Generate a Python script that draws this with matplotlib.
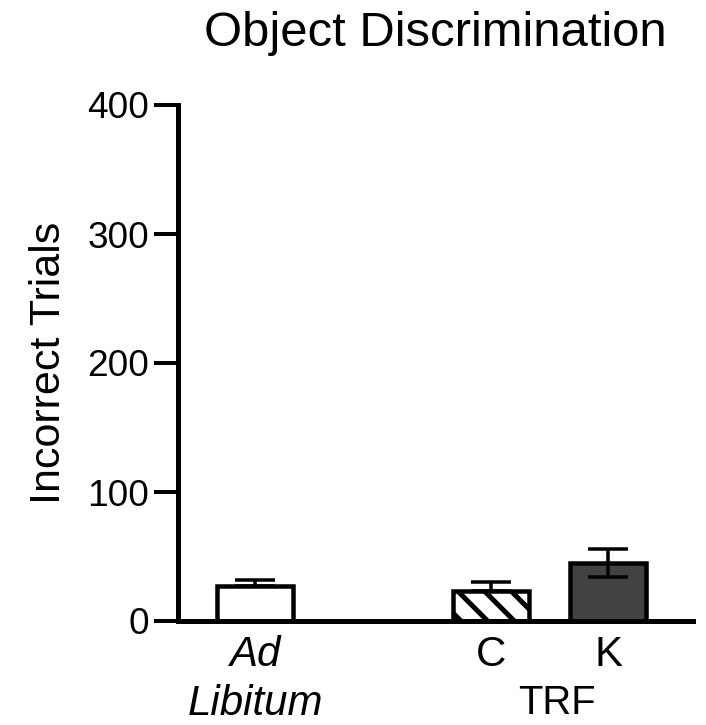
import matplotlib
matplotlib.use('Agg')
import matplotlib.pyplot as plt
import numpy as np

# incorrect trials per group (mean, error up/down)
groups = ['Ad\nLibitum', 'C', 'K']
means = [27, 23, 45]
err_up = [5, 7, 11]
err_down = [0, 0, 11]
yticks = [0, 100, 200, 300, 400]

DPI = 160

def pt(px):
    # size given in pixels -> points
    return px * 72.0 / DPI

plt.rcParams['font.family'] = ['Liberation Sans', 'DejaVu Sans']
plt.rcParams['hatch.linewidth'] = pt(5)

fig = plt.figure(figsize=(706 / DPI, 725 / DPI), dpi=DPI)
ax = fig.add_axes([178 / 706, 1 - 621 / 725, 515 / 706, 516 / 725])

x = [1.5, 6.08, 8.35]
width = 1.48
faces = ['white', 'white', '#424242']
hatches = ['', '\\\\', '']

for xi, m, fc, h in zip(x, means, faces, hatches):
    ax.bar(xi, m, width=width, color=fc, edgecolor='black', hatch=h,
           linewidth=pt(4.5), zorder=2, clip_on=False)

ax.errorbar(x, means, yerr=[err_down, err_up], fmt='none', ecolor='black',
            elinewidth=pt(3.5), capsize=pt(20), capthick=pt(3.5), zorder=3)

ax.set_xlim(0, 10)
ax.set_ylim(0, 400)
ax.set_yticks(yticks)
ax.set_xticks(x)
ax.set_xticklabels(groups, fontsize=pt(42), linespacing=1.3)
ax.get_xticklabels()[0].set_style('italic')
ax.tick_params(axis='x', length=0, pad=pt(14))
ax.tick_params(axis='y', length=pt(24), width=pt(4), labelsize=pt(37), pad=pt(5))

for side in ['top', 'right']:
    ax.spines[side].set_visible(False)
for side in ['left', 'bottom']:
    ax.spines[side].set_linewidth(pt(5))

ax.annotate('TRF', xy=((x[1] + x[2]) / 2 + 0.15, 0), xycoords=('data', 'axes fraction'),
            xytext=(0, -pt(93)), textcoords='offset points',
            ha='center', va='baseline', fontsize=pt(40))

ax.set_ylabel('Incorrect Trials', fontsize=pt(43), labelpad=pt(18))
ax.set_title('Object Discrimination', fontsize=pt(49), pad=pt(59))

fig.savefig('out.png', dpi=DPI)
